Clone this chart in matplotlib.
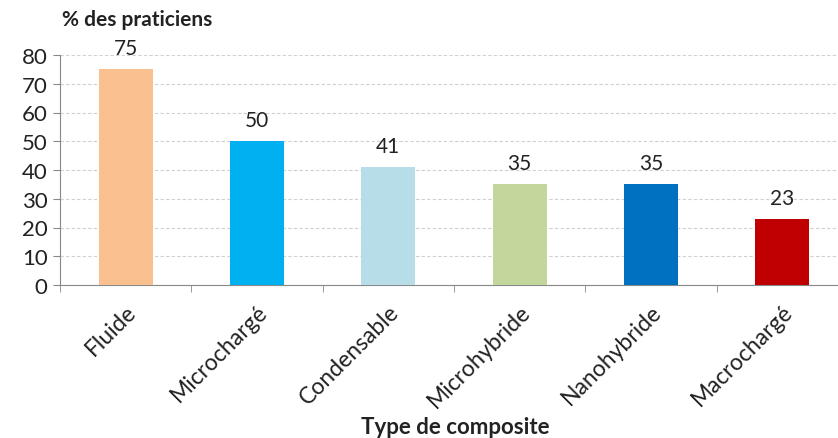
import matplotlib.pyplot as plt
import numpy as np

# data
categories = ['Fluide', 'Microchargé', 'Condensable', 'Microhybride', 'Nanohybride', 'Macrochargé']
values = [75, 50, 41, 35, 35, 23]
colors = ['#FAC090', '#00B0F0', '#B7DEE8', '#C3D69B', '#0070C0', '#C00000']
yticks = [0, 10, 20, 30, 40, 50, 60, 70, 80]

plt.rcParams['font.family'] = ['Lato', 'DejaVu Sans']

fig = plt.figure(figsize=(8.38, 4.39), dpi=100)
ax = fig.add_axes([60/838, 153/439, 788/838, 230/439])

x = np.arange(len(categories))
ax.bar(x, values, width=0.41, color=colors, zorder=3)

for xi, v in zip(x, values):
    ax.annotate(str(v), (xi, v), xytext=(0, 8), textcoords='offset points',
                ha='center', va='bottom', fontsize=15, color='#222222')

ax.set_xlim(-0.5, len(categories) - 0.5)
ax.set_ylim(0, 80)
ax.set_yticks(yticks)
ax.tick_params(axis='y', labelsize=16, length=5, color='#888888', pad=4, labelcolor='#222222')
ax.yaxis.grid(True, linestyle=(0, (3, 2)), color='#d0d0d0', linewidth=0.8, zorder=0)

# category labels between boundary ticks
ax.set_xticks(x)
ax.set_xticklabels(categories, rotation=45, ha='right', rotation_mode='anchor',
                   fontsize=16.5, color='#222222')
ax.tick_params(axis='x', length=0, pad=11)
ax.set_xticks(np.arange(len(categories) + 1) - 0.5, minor=True)
ax.tick_params(axis='x', which='minor', length=5, color='#888888')

for s in ['top', 'right']:
    ax.spines[s].set_visible(False)
for s in ['left', 'bottom']:
    ax.spines[s].set_color('#888888')

fig.text(62/838, 1 - 20/439, '% des praticiens', fontsize=15, fontweight='bold',
         ha='left', va='center', color='#222222')
fig.text(455/838, 1 - 428/439, 'Type de composite', fontsize=16, fontweight='bold',
         ha='center', va='center', color='#222222')

fig.savefig('out.png', dpi=100)
